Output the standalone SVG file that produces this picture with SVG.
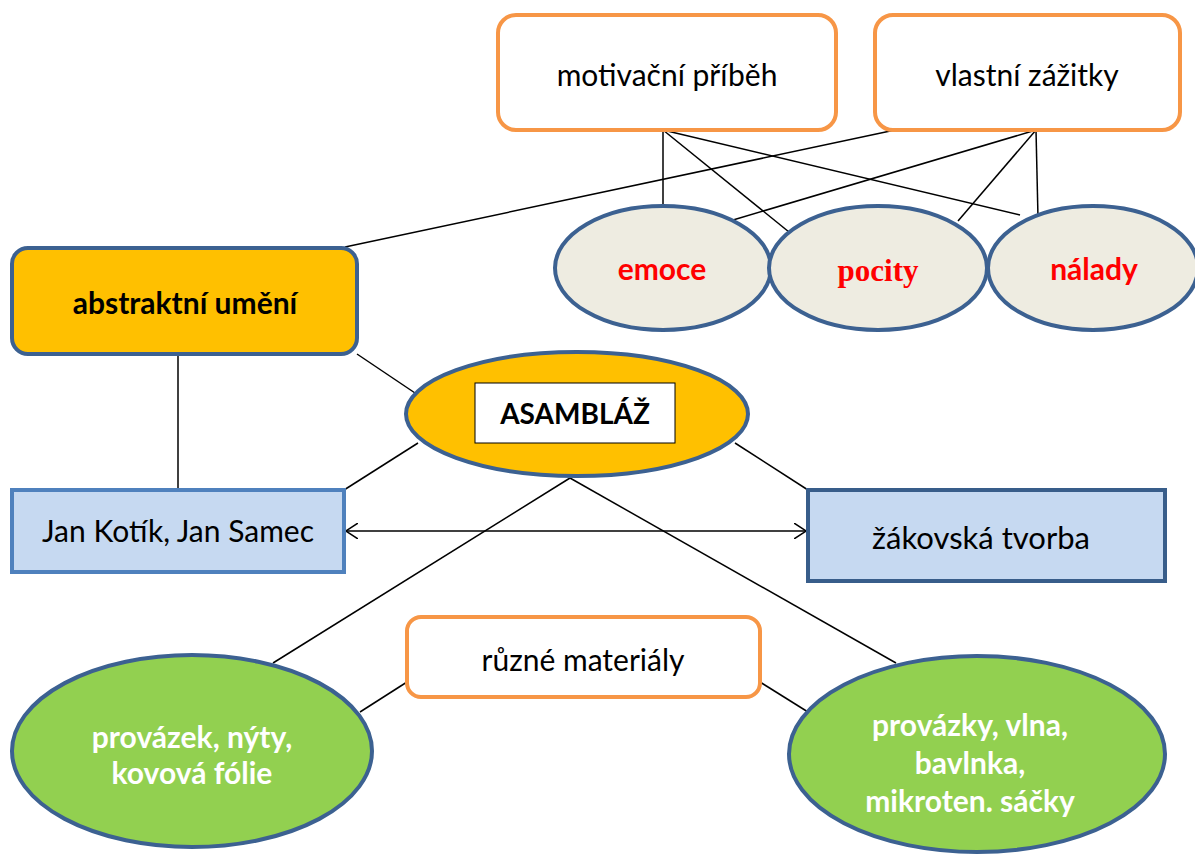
<svg xmlns="http://www.w3.org/2000/svg" width="1195" height="859" viewBox="0 0 1195 859">
<style>
.t{font-family:Lato,"Open Sans","Liberation Sans",sans-serif;text-anchor:middle;dominant-baseline:central}
.n{font-size:30px;fill:#000}
.b{font-weight:bold}
.r{fill:#FF0000;font-size:30px;font-weight:bold}
.w{fill:#fff;font-size:30px;font-weight:bold}
.orange{fill:#fff;stroke:#F79646;stroke-width:4}
.bl{stroke:#3C6191;stroke-width:4}
.ln{stroke:#000;stroke-width:1.5;fill:none}
</style>
<defs>
<marker id="ah" viewBox="0 0 12 16" refX="12" refY="8" markerWidth="12" markerHeight="16" markerUnits="userSpaceOnUse" orient="auto-start-reverse">
<path d="M0,0 L12,8 L0,16" fill="none" stroke="#000" stroke-width="1.5"/>
</marker>
</defs>
<g id="connectors">
<line class="ln" x1="663" y1="130" x2="663" y2="206"/>
<line class="ln" x1="663" y1="130" x2="789" y2="232"/>
<line class="ln" x1="663" y1="130" x2="1020" y2="215"/>
<line class="ln" x1="1036" y1="130" x2="733" y2="220"/>
<line class="ln" x1="1036" y1="130" x2="958" y2="221"/>
<line class="ln" x1="1036" y1="130" x2="1038" y2="218"/>
<line class="ln" x1="895" y1="130" x2="345" y2="247"/>
<line class="ln" x1="357" y1="354" x2="418" y2="395"/>
<line class="ln" x1="178" y1="354" x2="178" y2="490"/>
<line class="ln" x1="418" y1="443" x2="344" y2="490"/>
<line class="ln" x1="735" y1="443" x2="808" y2="490"/>
<line class="ln" x1="570" y1="478" x2="273" y2="663"/>
<line class="ln" x1="570" y1="478" x2="896" y2="663"/>
<line class="ln" x1="407" y1="682" x2="360" y2="712"/>
<line class="ln" x1="760" y1="682" x2="808" y2="712"/>
<line class="ln" x1="346" y1="531" x2="806" y2="531" marker-start="url(#ah)" marker-end="url(#ah)"/>
</g>
<g id="motivacni">
<rect class="orange" x="498" y="15" width="338" height="115" rx="18"/>
<text class="t n" x="667" y="74">motivační příběh</text>
</g>
<g id="vlastni">
<rect class="orange" x="875" y="15" width="305" height="115" rx="18"/>
<text class="t n" x="1027" y="74">vlastní zážitky</text>
</g>
<g id="emoce">
<ellipse class="bl" cx="663" cy="268" rx="108" ry="62" fill="#EEECE1"/>
<text class="t r" x="662" y="268">emoce</text>
</g>
<g id="pocity">
<ellipse class="bl" cx="878" cy="268" rx="109" ry="62" fill="#EEECE1"/>
<text class="t r" x="878" y="270" style="font-family:'Liberation Serif',serif;font-size:31px">pocity</text>
</g>
<g id="nalady">
<ellipse class="bl" cx="1093" cy="268" rx="105" ry="62" fill="#EEECE1"/>
<text class="t r" x="1094" y="268">nálady</text>
</g>
<g id="abstraktni">
<rect class="bl" x="12" y="248" width="345" height="106" rx="16" fill="#FFC000"/>
<text class="t n b" x="185" y="302">abstraktní umění</text>
</g>
<g id="asamblaz">
<ellipse class="bl" cx="577" cy="414" rx="171" ry="62" fill="#FFC000"/>
<rect x="475" y="383" width="200" height="60" fill="#fff" stroke="#000" stroke-width="1"/>
<text class="t n b" x="575" y="413" style="font-size:28px">ASAMBLÁŽ</text>
</g>
<g id="kotik">
<rect x="12" y="490" width="332" height="82" fill="#C6D9F1" stroke="#4F81BD" stroke-width="4"/>
<text class="t n" x="178" y="530">Jan Kotík, Jan Samec</text>
</g>
<g id="zakovska">
<rect x="808" y="490" width="357" height="91" fill="#C6D9F1" stroke="#385D8A" stroke-width="4"/>
<text class="t n" x="981" y="537" style="font-size:31px">žákovská tvorba</text>
</g>
<g id="materialy">
<rect class="orange" x="407" y="617" width="353" height="80" rx="14"/>
<text class="t n" x="583" y="659">různé materiály</text>
</g>
<g id="leftgreen">
<ellipse class="bl" cx="192" cy="751" rx="180" ry="96" fill="#92D050"/>
<text class="t w" x="192" y="736">provázek, nýty,</text>
<text class="t w" x="192" y="772">kovová fólie</text>
</g>
<g id="rightgreen">
<ellipse class="bl" cx="977" cy="754" rx="188" ry="98" fill="#92D050"/>
<text class="t w" x="970" y="724">provázky, vlna,</text>
<text class="t w" x="970" y="762">bavlnka,</text>
<text class="t w" x="970" y="800">mikroten. sáčky</text>
</g>
</svg>
